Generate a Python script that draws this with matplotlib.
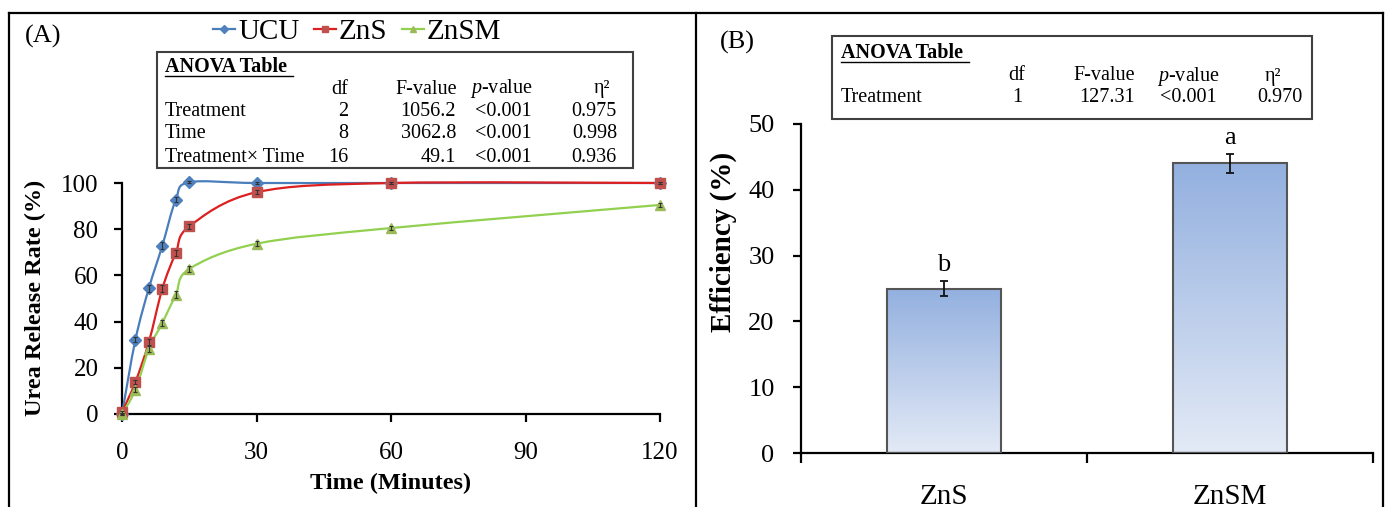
import numpy as np
import matplotlib
matplotlib.use("Agg")
import matplotlib.pyplot as plt
from matplotlib.path import Path
from matplotlib.patches import PathPatch, Rectangle
from matplotlib.lines import Line2D
from matplotlib.colors import LinearSegmentedColormap

plt.rcParams['font.family'] = ['Liberation Serif', 'DejaVu Serif']
plt.rcParams['mathtext.fontset'] = 'custom'
plt.rcParams['mathtext.rm'] = 'Liberation Serif'
plt.rcParams['mathtext.it'] = 'Liberation Serif:italic'

# panel A data
time_min = [0, 3, 6, 9, 12, 15, 30, 60, 120]
ucu = [0, 32.2, 54.5, 72.9, 92.8, 100.3, 100, 100, 100]
zns = [0.7, 13.9, 31.2, 54.3, 69.7, 81.2, 96, 100, 100]
znsm = [0, 10.5, 28.3, 39.4, 51.7, 62.8, 73.7, 80.5, 90.5]
ucu_err = [0.5, 1.2, 1.5, 1.4, 1.2, 0.4, 0.3, 0.3, 0.3]
zns_err = [0.5, 1.0, 1.2, 1.4, 1.3, 1.1, 0.8, 0.4, 0.4]
znsm_err = [0.5, 1.1, 1.3, 1.2, 1.4, 1.2, 1.0, 0.9, 0.8]

# panel B data
bar_names = ["ZnS", "ZnSM"]
efficiency = [25.0, 44.0]
eff_err = [1.1, 1.5]
letters = ["b", "a"]

anova_a_rows = ["Treatment", "Time", "Treatment\u00d7 Time"]
anova_a_df = ["2", "8", "16"]
anova_a_f = ["1056.2", "3062.8", "49.1"]
anova_a_p = ["<0.001", "<0.001", "<0.001"]
anova_a_eta = ["0.975", "0.998", "0.936"]

anova_b_rows = ["Treatment"]
anova_b_df = ["1"]
anova_b_f = ["127.31"]
anova_b_p = ["<0.001"]
anova_b_eta = ["0.970"]

W, H = 1387, 507
fig = plt.figure(figsize=(W / 100, H / 100), dpi=100)


def fx(x):
    return x / W


def fy(y):
    return 1 - y / H


def smooth_path(x, y):
    # catmull-rom style bezier, like Excel smoothed lines
    pts = np.column_stack([x, y]).astype(float)
    n = len(pts)
    verts = [pts[0]]
    codes = [Path.MOVETO]
    for i in range(n - 1):
        p0 = pts[i - 1] if i > 0 else pts[i]
        p1 = pts[i]
        p2 = pts[i + 1]
        p3 = pts[i + 2] if i + 2 < n else pts[i + 1]
        verts += [p1 + (p2 - p0) / 6, p2 - (p3 - p1) / 6, p2]
        codes += [Path.CURVE4] * 3
    return Path(verts, codes)


# outer frames
for seg in [((9, 1383), (13, 13)), ((9, 9), (13, 507)), ((696, 696), (13, 507)), ((1383, 1383), (13, 507))]:
    fig.add_artist(Line2D([fx(v) for v in seg[0]], [fy(v) for v in seg[1]],
                          color='black', lw=1.6, transform=fig.transFigure))

# ---------- panel A ----------
ax1 = fig.add_axes([122 / W, 1 - 414 / H, 538 / W, 231 / H])
series = [
    ("UCU", ucu, ucu_err, '#4A7EBB', '#4F81BD', 'D', 6.5),
    ("ZnS", zns, zns_err, '#DD1F1F', '#C0504D', 's', 6.5),
    ("ZnSM", znsm, znsm_err, '#92D050', '#9BBB59', '^', 7),
]
handles = []
for name, vals, err, lc, mc, mk, ms in series:
    ax1.add_patch(PathPatch(smooth_path(time_min, vals), fill=False, edgecolor=lc,
                            lw=1.6, clip_on=False, zorder=3))
    ax1.plot(time_min, vals, linestyle='none', marker=mk, ms=ms, color=mc,
             mec=mc, clip_on=False, zorder=4)
    ax1.errorbar(time_min, vals, yerr=err, fmt='none', ecolor='#333333', elinewidth=0.8,
                 capsize=1.5, capthick=0.8, clip_on=False, zorder=5)
    handles.append(Line2D([], [], color=lc, lw=1.6, marker=mk, ms=4.5, mfc=mc, mec=mc, label=name))

ax1.set_xlim(0, 120)
ax1.set_ylim(0, 100)
ax1.set_xticks([0, 30, 60, 90, 120])
ax1.set_yticks([0, 20, 40, 60, 80, 100])
for s in ['top', 'right']:
    ax1.spines[s].set_visible(False)
for s in ['left', 'bottom']:
    ax1.spines[s].set_linewidth(1.6)
ax1.tick_params(axis='both', direction='out', length=6, width=1.6, labelsize=18)
ax1.tick_params(axis='y', pad=11)
ax1.tick_params(axis='x', pad=14)

fig.legend(handles=handles, loc='center', bbox_to_anchor=(fx(357), fy(32)), ncol=3,
           frameon=False, fontsize=21, handlelength=0.75, handletextpad=0.1,
           columnspacing=0.5, borderpad=0)

fig.text(fx(35), fy(298), "Urea Release Rate (%)", rotation=90, ha='center', va='center',
         fontsize=17.5, fontweight='bold')
fig.text(fx(391), fy(483), "Time (Minutes)", ha='center', va='center',
         fontsize=17.5, fontweight='bold')
fig.text(fx(43), fy(36), "(A)", ha='center', va='center', fontsize=19)

# ANOVA table A
fig.add_artist(Rectangle((fx(157), fy(168)), fx(633) - fx(157), fy(52) - fy(168),
                         transform=fig.transFigure, facecolor='white',
                         edgecolor='#404040', lw=1.5, zorder=6))
ts = 14.5
fig.text(fx(165), fy(67), "ANOVA Table", ha='left', va='center', fontsize=ts,
         fontweight='bold', zorder=7)
fig.add_artist(Line2D([fx(165), fx(293)], [fy(76), fy(76)], color='black', lw=1.0,
                      transform=fig.transFigure, zorder=7))
fig.text(fx(348), fy(89), "df", ha='right', va='center', fontsize=ts, zorder=7)
fig.text(fx(457), fy(89), "F-value", ha='right', va='center', fontsize=ts, zorder=7)
fig.text(fx(470), fy(89), "$p$-value", ha='left', va='center', fontsize=ts, zorder=7)
fig.text(fx(602), fy(89), "\u03b7\u00b2", ha='center', va='center', fontsize=ts, zorder=7)
row_y = [112, 134, 157]
for i, ry in enumerate(row_y):
    fig.text(fx(165), fy(ry), anova_a_rows[i], ha='left', va='center', fontsize=ts, zorder=7)
    fig.text(fx(348), fy(ry), anova_a_df[i], ha='right', va='center', fontsize=ts, zorder=7)
    fig.text(fx(456), fy(ry), anova_a_f[i], ha='right', va='center', fontsize=ts, zorder=7)
    fig.text(fx(475), fy(ry), anova_a_p[i], ha='left', va='center', fontsize=ts, zorder=7)
    fig.text(fx(617), fy(ry), anova_a_eta[i], ha='right', va='center', fontsize=ts, zorder=7)

# ---------- panel B ----------
ax2 = fig.add_axes([801 / W, 1 - 453 / H, 572 / W, 329 / H])
xpos = np.arange(len(bar_names))
bw = 0.4
cmap = LinearSegmentedColormap.from_list("barfill", ['#E3EAF6', '#93B0DF'])
grad = np.linspace(0, 1, 256).reshape(-1, 1)
bars = ax2.bar(xpos, efficiency, width=bw, facecolor='none', edgecolor='#555555', lw=1.5, zorder=3)
for b in bars:
    im = ax2.imshow(grad, cmap=cmap, origin='lower', aspect='auto', zorder=2,
                    extent=[b.get_x(), b.get_x() + b.get_width(), 0, b.get_height()])
    im.set_clip_path(b)
ax2.errorbar(xpos, efficiency, yerr=eff_err, fmt='none', ecolor='#111111', elinewidth=1.3,
             capsize=3, capthick=1.3, zorder=4)
for i in range(len(bar_names)):
    ax2.text(xpos[i], efficiency[i] + eff_err[i] + 1.5, letters[i], ha='center',
             va='baseline', fontsize=19)

ax2.set_xlim(-0.5, 1.5)
ax2.set_ylim(0, 50)
ax2.set_yticks([0, 10, 20, 30, 40, 50])
ax2.set_xticks(xpos)
ax2.set_xticklabels(bar_names)
ax2.set_xticks([-0.5, 0.5, 1.5], minor=True)
for s in ['top', 'right']:
    ax2.spines[s].set_visible(False)
for s in ['left', 'bottom']:
    ax2.spines[s].set_linewidth(1.6)
ax2.tick_params(axis='y', direction='out', length=6, width=1.6, labelsize=19, pad=13)
ax2.tick_params(axis='x', which='major', length=0, labelsize=21, pad=22)
ax2.tick_params(axis='x', which='minor', direction='out', length=7, width=1.6)

fig.text(fx(723), fy(242), "Efficiency (%)", rotation=90, ha='center', va='center',
         fontsize=21, fontweight='bold')
fig.text(fx(737), fy(42), "(B)", ha='center', va='center', fontsize=19)

# ANOVA table B
fig.add_artist(Rectangle((fx(832), fy(119)), fx(1312) - fx(832), fy(36) - fy(119),
                         transform=fig.transFigure, facecolor='white',
                         edgecolor='#404040', lw=1.5, zorder=6))
fig.text(fx(841), fy(53), "ANOVA Table", ha='left', va='center', fontsize=ts,
         fontweight='bold', zorder=7)
fig.add_artist(Line2D([fx(841), fx(969)], [fy(62), fy(62)], color='black', lw=1.0,
                      transform=fig.transFigure, zorder=7))
fig.text(fx(1017), fy(76), "df", ha='center', va='center', fontsize=ts, zorder=7)
fig.text(fx(1135), fy(76), "F-value", ha='right', va='center', fontsize=ts, zorder=7)
fig.text(fx(1157), fy(76), "$p$-value", ha='left', va='center', fontsize=ts, zorder=7)
fig.text(fx(1273), fy(76), "\u03b7\u00b2", ha='center', va='center', fontsize=ts, zorder=7)
fig.text(fx(841), fy(98), anova_b_rows[0], ha='left', va='center', fontsize=ts, zorder=7)
fig.text(fx(1017), fy(98), anova_b_df[0], ha='center', va='center', fontsize=ts, zorder=7)
fig.text(fx(1135), fy(98), anova_b_f[0], ha='right', va='center', fontsize=ts, zorder=7)
fig.text(fx(1160), fy(98), anova_b_p[0], ha='left', va='center', fontsize=ts, zorder=7)
fig.text(fx(1303), fy(98), anova_b_eta[0], ha='right', va='center', fontsize=ts, zorder=7)

fig.savefig("out.png", dpi=100)
